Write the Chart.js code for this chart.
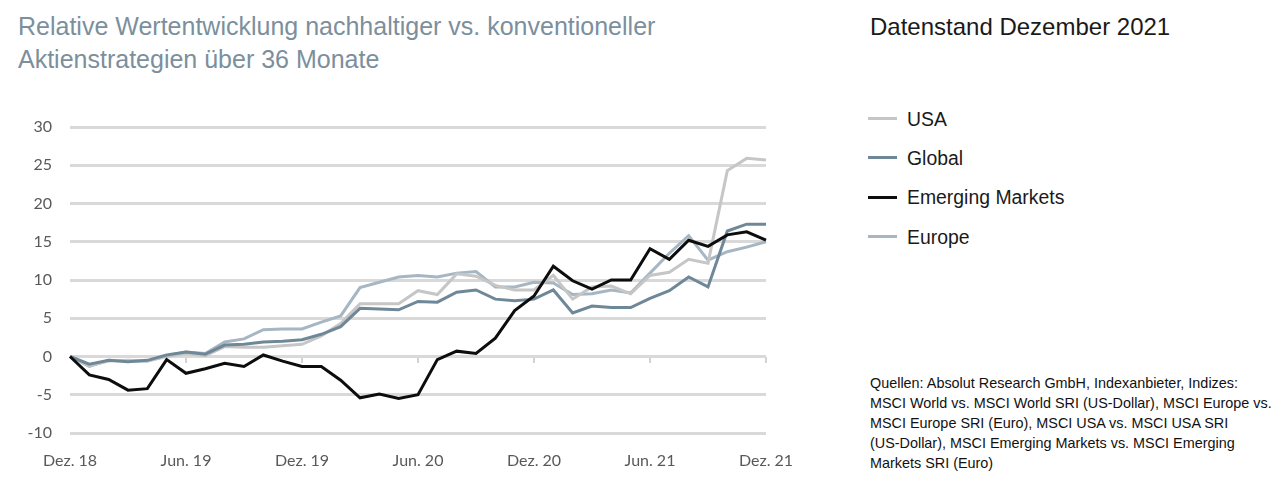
<!DOCTYPE html>
<html>
<head>
<meta charset="utf-8">
<script src="https://cdn.jsdelivr.net/npm/chart.js@4"></script>
<style>
  body { margin: 0; width: 1285px; height: 492px; background: #fff; position: relative; overflow: hidden; font-family: "Liberation Sans", Arial, sans-serif; }
  #title { position: absolute; left: 18px; top: 10px; font-size: 25px; line-height: 33px; color: #7b8f9d; white-space: nowrap; }
  #stand { position: absolute; left: 870px; top: 11px; font-size: 24px; line-height: 32px; color: #1a1a1a; white-space: nowrap; }
  #legend { position: absolute; left: 868px; top: 99px; }
  .item { height: 39.3px; display: flex; align-items: center; }
  .item span.sw { display: inline-block; width: 29px; height: 3px; margin-right: 10px; }
  .item span.tx { font-size: 19.4px; color: #1a1a1a; line-height: 28px; white-space: nowrap; }
  #source { position: absolute; left: 870px; top: 373px; font-size: 14.4px; line-height: 20px; color: #111; width: 415px; white-space: nowrap; }
  #wrap { position: absolute; left: 0; top: 100px; width: 800px; height: 392px; }
</style>
</head>
<body>
<div id="title">Relative Wertentwicklung nachhaltiger vs. konventioneller<br>Aktienstrategien über 36 Monate</div>
<div id="stand">Datenstand Dezember 2021</div>
<div id="legend"></div>
<div id="source">Quellen: Absolut Research GmbH, Indexanbieter, Indizes:<br>MSCI World vs. MSCI World SRI (US-Dollar), MSCI Europe vs.<br>MSCI Europe SRI (Euro), MSCI USA vs. MSCI USA SRI<br>(US-Dollar), MSCI Emerging Markets vs. MSCI Emerging<br>Markets SRI (Euro)</div>
<div id="wrap"><canvas id="chart"></canvas></div>
<script>
var months = ['Dez. 18','Jan. 19','Feb. 19','Mär. 19','Apr. 19','Mai. 19','Jun. 19','Jul. 19','Aug. 19','Sep. 19','Okt. 19','Nov. 19',
  'Dez. 19','Jan. 20','Feb. 20','Mär. 20','Apr. 20','Mai. 20','Jun. 20','Jul. 20','Aug. 20','Sep. 20','Okt. 20','Nov. 20',
  'Dez. 20','Jan. 21','Feb. 21','Mär. 21','Apr. 21','Mai. 21','Jun. 21','Jul. 21','Aug. 21','Sep. 21','Okt. 21','Nov. 21','Dez. 21'];

var usa = [0, -1.2, -0.6, -0.5, -0.6, 0.0, 0.4, 0.1, 1.3, 1.2, 1.2, 1.4,
  1.6, 2.7, 4.3, 6.9, 6.9, 6.9, 8.6, 8.1, 10.8, 10.5, 9.3, 8.7,
  8.7, 10.6, 7.5, 9.1, 9.2, 8.2, 10.6, 11.0, 12.7, 12.2, 24.3, 25.9, 25.7];

var global = [0, -1.0, -0.5, -0.7, -0.5, 0.2, 0.6, 0.3, 1.5, 1.6, 1.9, 2.0,
  2.2, 2.9, 3.9, 6.3, 6.2, 6.1, 7.2, 7.1, 8.4, 8.7, 7.5, 7.3,
  7.5, 8.7, 5.7, 6.6, 6.4, 6.4, 7.6, 8.6, 10.4, 9.1, 16.4, 17.3, 17.3];

var emerging = [0, -2.4, -3.0, -4.4, -4.2, -0.4, -2.2, -1.6, -0.9, -1.3, 0.2, -0.6,
  -1.3, -1.3, -3.1, -5.4, -4.9, -5.5, -5.0, -0.4, 0.7, 0.4, 2.4, 6.0,
  7.9, 11.8, 9.9, 8.8, 10.0, 10.0, 14.1, 12.7, 15.2, 14.4, 15.9, 16.3, 15.2];

var europe = [0, -1.3, -0.5, -0.6, -0.6, 0.1, 0.6, 0.4, 1.9, 2.3, 3.5, 3.6,
  3.6, 4.5, 5.3, 9.0, 9.7, 10.4, 10.6, 10.4, 10.9, 11.1, 9.1, 9.1,
  9.7, 9.6, 8.1, 8.2, 8.7, 8.3, 10.9, 13.5, 15.8, 12.6, 13.7, 14.3, 15.0];

var yTicks = [-10, -5, 0, 5, 10, 15, 20, 25, 30];

var series = [
  { label: 'USA', data: usa, color: '#c6c6c6', order: 2 },
  { label: 'Global', data: global, color: '#6f8898', order: 1 },
  { label: 'Emerging Markets', data: emerging, color: '#0d0d0d', order: 0 },
  { label: 'Europe', data: europe, color: '#a6b6c3', order: 3 }
];

$legend = document.getElementById('legend');
series.forEach(function(s) {
  var d = document.createElement('div');
  d.className = 'item';
  d.innerHTML = '<span class="sw" style="background:' + s.color + '"></span><span class="tx">' + s.label + '</span>';
  $legend.appendChild(d);
});

var ctx = document.getElementById('chart');
var chart = new Chart(ctx, {
  type: 'line',
  data: {
    labels: months,
    datasets: series.map(function(s) {
      return {
        label: s.label,
        data: s.data,
        borderColor: s.color,
        backgroundColor: s.color,
        borderWidth: 3,
        pointRadius: 0,
        tension: 0,
        order: s.order
      };
    })
  },
  options: {
    responsive: true,
    maintainAspectRatio: false,
    animation: false,
    layout: { padding: { top: 27, right: 34, bottom: 0, left: 0 } },
    plugins: { legend: { display: false }, tooltip: { enabled: false } },
    scales: {
      x: {
        offset: false,
        grid: { display: false, drawTicks: false },
        border: { display: false },
        ticks: {
          autoSkip: false,
          maxRotation: 0,
          padding: 18,
          color: '#595959',
          font: { family: 'Lato', size: 16 },
          callback: function(v, i) { return i % 6 === 0 ? months[i] : ''; }
        },
        afterFit: function(scale) {
          scale.height = 59;
          scale.paddingLeft = 0;
          scale.paddingRight = 0;
        }
      },
      x2: {
        type: 'category',
        labels: months,
        position: { y: 0 },
        offset: false,
        border: { display: false },
        grid: {
          drawOnChartArea: false,
          drawTicks: true,
          tickLength: 6,
          lineWidth: 2,
          color: function(c) { return (c.index > 0 && c.index % 6 === 0) ? '#d3d3d3' : 'rgba(0,0,0,0)'; }
        },
        ticks: { display: false, autoSkip: false },
        afterFit: function(scale) {
          scale.paddingLeft = 0;
          scale.paddingRight = 0;
        }
      },
      y: {
        min: -10,
        max: 30,
        afterBuildTicks: function(scale) { scale.ticks = yTicks.map(function(v) { return { value: v }; }); },
        border: { display: false },
        grid: { color: '#d9d9d9', lineWidth: 3, drawTicks: false },
        ticks: { padding: 18, color: '#595959', font: { family: 'Lato', size: 16 } },
        afterFit: function(scale) {
          scale.width = 70;
          scale.paddingTop = 0;
          scale.paddingBottom = 0;
        }
      }
    }
  }
});
</script>
</body>
</html>
